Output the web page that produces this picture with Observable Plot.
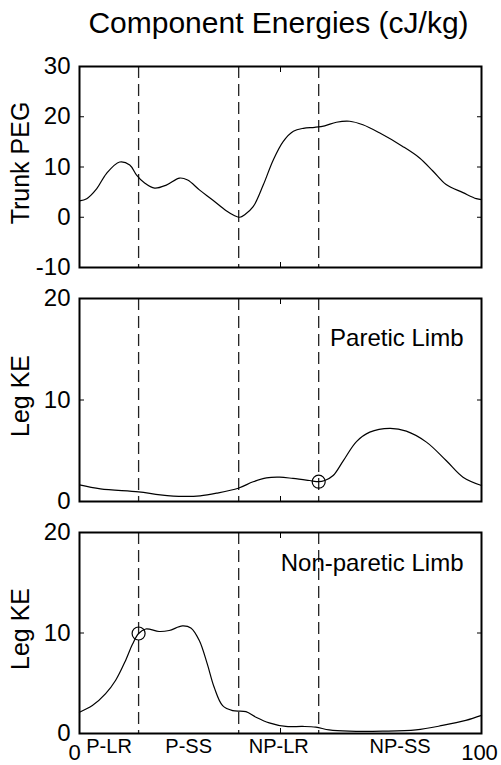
<!DOCTYPE html>
<html><head><meta charset="utf-8">
<script src="https://cdn.jsdelivr.net/npm/d3@7"></script>
<script src="https://cdn.jsdelivr.net/npm/@observablehq/plot@0.6"></script>
<style>
body{margin:0;background:#fff;font-family:"Liberation Sans",Arial,sans-serif;}
#title{box-sizing:border-box;width:501px;height:40px;padding-left:56px;text-align:center;font-size:30px;line-height:46px;color:#000;white-space:nowrap;}
#chart svg{display:block;}
</style></head><body>
<div id="title">Component Energies (cJ/kg)</div>
<div id="chart"></div>
<script>
// Gait-cycle events (% of stride) and phase labels
const events = [14.7, 39.6, 59.5];
const phaseLabels = ["P-LR", "P-SS", "NP-LR", "NP-SS"];

// Trunk PEG (cJ/kg)
const trunkX = [0, 1.8, 4.3, 6.7, 10.0, 12.5, 14.2, 16.2, 18.7, 21.6, 24.9, 26.9, 29.9, 33.2, 36.5, 38.6, 39.9, 41.1, 43.2, 45.7, 48.2, 50.7, 53.2, 55.7, 58.5, 61.0, 63.9, 67.2, 70.5, 74.6, 80.4, 84.6, 87.9, 91.2, 95.4, 98.7, 100];
const trunkY = [3.25, 3.7, 5.7, 8.7, 11.0, 10.4, 8.4, 6.8, 5.8, 6.4, 7.8, 7.4, 5.4, 3.4, 1.3, 0.3, 0.0, 0.5, 2.1, 6.4, 11.4, 15.1, 17.1, 17.7, 17.9, 18.2, 18.9, 19.1, 18.4, 16.8, 14.1, 11.8, 9.2, 6.5, 4.9, 3.7, 3.5];

// Paretic limb kinetic energy (cJ/kg)
const pareticX = [0, 5.2, 14.7, 20.1, 25.9, 30.0, 34.1, 39.5, 43.2, 46.5, 49.8, 53.1, 57.2, 59.5, 61.0, 63.1, 65.6, 68.9, 72.2, 77.2, 81.3, 86.3, 91.2, 95.4, 100];
const pareticY = [1.64, 1.25, 0.95, 0.66, 0.5, 0.56, 0.82, 1.31, 1.94, 2.33, 2.4, 2.27, 2.07, 1.95, 2.07, 2.56, 4.0, 5.9, 6.83, 7.2, 6.93, 5.85, 4.04, 2.4, 1.58];

// Non-paretic limb kinetic energy (cJ/kg)
const nonPareticX = [0, 3.2, 6.5, 9.0, 11.5, 13.2, 14.7, 16.5, 19.8, 22.3, 25.6, 27.7, 29.8, 31.8, 33.5, 35.6, 38.1, 41.4, 43.9, 47.2, 51.3, 55.5, 58.8, 62.1, 67.1, 75.4, 83.7, 90.3, 96.1, 100];
const nonPareticY = [2.12, 2.78, 3.97, 5.3, 7.3, 8.9, 9.95, 10.4, 10.15, 10.25, 10.7, 10.5, 9.25, 6.9, 4.6, 2.78, 2.28, 2.18, 1.62, 1.06, 0.7, 0.7, 0.63, 0.36, 0.23, 0.23, 0.36, 0.8, 1.3, 1.8];

// Marked points (circles)
const pareticMark = {x: 59.5, y: 1.95};
const nonPareticMark = {x: 14.7, y: 9.95};

const trunkTicks = [-10, 0, 10, 20, 30];
const legTicks = [0, 10, 20];
const xStartTick = [0];
const xEndTick = [100];
const xInnerTicks = [50];

const bounds = [0, ...events, 100];
const phases = phaseLabels.map((label, i) => ({label, x: (bounds[i] + bounds[i + 1]) / 2}));
const fmt = d => String(d);

function panel({xs, ys, domain, ticks, label, note, noteDy, mark, mt, mb, h, bottom}) {
  const data = xs.map((x, i) => ({x, y: ys[i]}));
  return Plot.plot({
    width: 501, height: h,
    marginLeft: 79, marginRight: 20, marginTop: mt, marginBottom: mb,
    style: {fontFamily: "Liberation Sans, Arial, sans-serif", fontSize: "24px", color: "black", background: "white", overflow: "visible"},
    x: {domain: [0, 100]},
    y: {domain},
    marks: [
      Plot.ruleX(events, {stroke: "#222", strokeWidth: 1.3, strokeDasharray: "12,6"}),
      Plot.line(data, {x: "x", y: "y", curve: "catmull-rom", stroke: "black", strokeWidth: 1.2}),
      mark ? Plot.dot([mark], {x: "x", y: "y", r: 6.5, stroke: "black", strokeWidth: 1.2, fill: "none"}) : null,
      note ? Plot.text([note], {text: d => d, frameAnchor: "top-right", dx: -18, dy: noteDy, fontSize: 24}) : null,
      Plot.axisY({ticks, anchor: "left", tickSize: -5, fill: "none", label: null}),
      Plot.axisY({ticks, anchor: "right", tickSize: -5, fill: "none", label: null}),
      Plot.axisY({ticks, anchor: "left", tickSize: 0, tickPadding: 9, fontSize: 24, tickFormat: fmt, label: null}),
      Plot.text([label], {text: d => d, frameAnchor: "left", textAnchor: "middle", rotate: -90, dx: -59, dy: -4, fontSize: 25}),
      Plot.axisX({ticks: xInnerTicks, anchor: "bottom", tickSize: -5, fill: "none", label: null}),
      Plot.axisX({ticks: xInnerTicks, anchor: "top", tickSize: -5, fill: "none", label: null}),
      bottom ? Plot.axisX({ticks: xStartTick, anchor: "bottom", tickSize: 0, tickPadding: 11, dx: -5, fontSize: 22, tickFormat: fmt, label: null}) : null,
      bottom ? Plot.axisX({ticks: xEndTick, anchor: "bottom", tickSize: 0, tickPadding: 11, dx: -2, fontSize: 22, tickFormat: fmt, label: null}) : null,
      bottom ? Plot.text(phases, {x: "x", text: "label", frameAnchor: "bottom", dy: 19, fontSize: 20}) : null,
      Plot.frame({stroke: "black", strokeWidth: 2})
    ]
  });
}

const chart = document.getElementById("chart");
chart.append(panel({xs: trunkX, ys: trunkY, domain: [-10, 30], ticks: trunkTicks, label: "Trunk PEG", mt: 26, mb: 12, h: 239}));
chart.append(panel({xs: pareticX, ys: pareticY, domain: [0, 20], ticks: legTicks, label: "Leg KE", note: "Paretic Limb", noteDy: 30, mark: pareticMark, mt: 19, mb: 12, h: 234}));
chart.append(panel({xs: nonPareticX, ys: nonPareticY, domain: [0, 20], ticks: legTicks, label: "Leg KE", note: "Non-paretic Limb", noteDy: 21, mark: nonPareticMark, mt: 19, mb: 32, h: 252, bottom: true}));
</script>
</body></html>
